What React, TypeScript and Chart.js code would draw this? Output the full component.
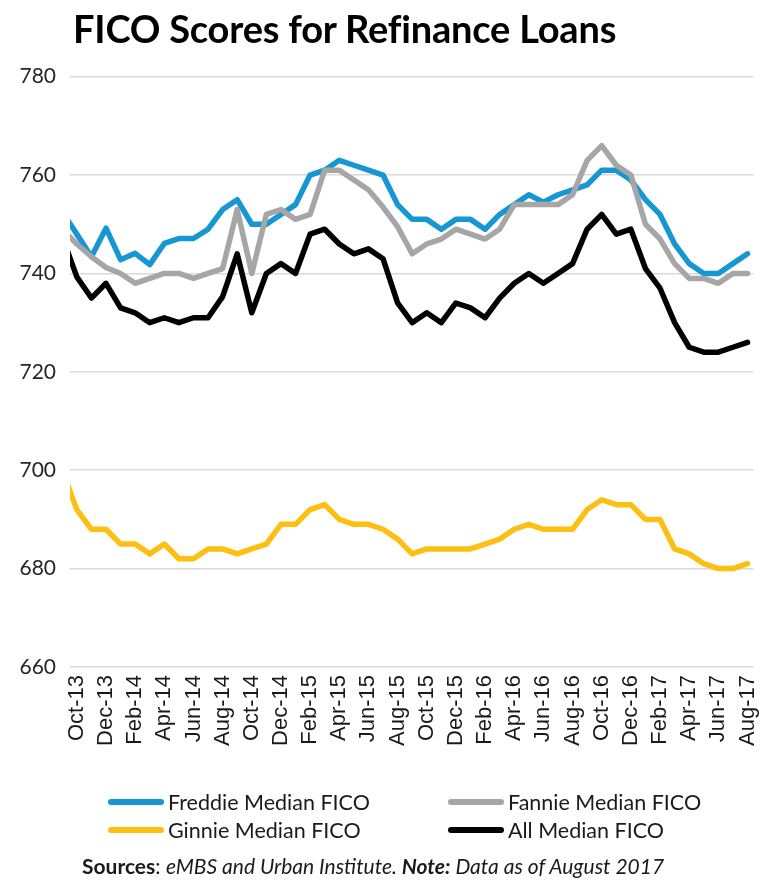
import React, { useEffect, useRef } from 'react';
import { Chart, registerables } from 'chart.js';

Chart.register(...registerables);

// Monthly observations, Sep-13 (partly outside the plot, clipped) through Aug-17
const months = [
  'Sep-13', 'Oct-13', 'Nov-13', 'Dec-13',
  'Jan-14', 'Feb-14', 'Mar-14', 'Apr-14', 'May-14', 'Jun-14', 'Jul-14', 'Aug-14', 'Sep-14', 'Oct-14', 'Nov-14', 'Dec-14',
  'Jan-15', 'Feb-15', 'Mar-15', 'Apr-15', 'May-15', 'Jun-15', 'Jul-15', 'Aug-15', 'Sep-15', 'Oct-15', 'Nov-15', 'Dec-15',
  'Jan-16', 'Feb-16', 'Mar-16', 'Apr-16', 'May-16', 'Jun-16', 'Jul-16', 'Aug-16', 'Sep-16', 'Oct-16', 'Nov-16', 'Dec-16',
  'Jan-17', 'Feb-17', 'Mar-17', 'Apr-17', 'May-17', 'Jun-17', 'Jul-17', 'Aug-17',
];

const tickLabels = [
  'Oct-13', 'Dec-13', 'Feb-14', 'Apr-14', 'Jun-14', 'Aug-14', 'Oct-14', 'Dec-14',
  'Feb-15', 'Apr-15', 'Jun-15', 'Aug-15', 'Oct-15', 'Dec-15', 'Feb-16', 'Apr-16',
  'Jun-16', 'Aug-16', 'Oct-16', 'Dec-16', 'Feb-17', 'Apr-17', 'Jun-17', 'Aug-17',
];

const freddie = [
  752.5, 748, 743.4, 749.2,
  742.8, 744.1, 741.8, 746.1, 747.1, 747.1, 749, 753, 755, 750, 750, 752,
  754, 760, 761, 763, 762, 761, 760, 754, 751, 751, 749, 751,
  751, 749, 752, 754, 756, 754.5, 756, 757, 758, 761, 761, 759,
  755, 752, 746, 742, 740, 740, 742, 744,
];

const fannie = [
  749, 746, 743.4, 741.2,
  740, 738, 739, 740, 740, 739, 740, 741, 753, 740, 752, 753,
  751, 752, 761, 761, 759, 757, 753.5, 749.5, 744, 746, 747, 749,
  748, 747, 749, 754, 754, 754, 754, 756, 763, 766, 762, 760,
  750, 747, 742, 739, 739, 738, 740, 740,
];

const ginnie = [
  700, 692, 688, 688,
  685, 685, 683, 685, 682, 682, 684, 684, 683, 684, 685, 689,
  689, 692, 693, 690, 689, 689, 688, 686, 683, 684, 684, 684,
  684, 685, 686, 688, 689, 688, 688, 688, 692, 694, 693, 693,
  690, 690, 684, 683, 681, 680, 680, 681,
];

const allMedian = [
  747.5, 739.3, 735, 738,
  733, 732, 730, 731, 730, 731, 731, 735.3, 744, 732, 740, 742,
  740, 748, 749, 746, 744, 745, 743, 734, 730, 732, 730, 734,
  733, 731, 735, 738, 740, 738, 740, 742, 749, 752, 748, 749,
  741, 737, 730, 725, 724, 724, 725, 726,
];

const seriesNames = ['Freddie Median FICO', 'Fannie Median FICO', 'Ginnie Median FICO', 'All Median FICO'];
const seriesValues = [freddie, fannie, ginnie, allMedian];
const seriesColors = ['#1696d2', '#a6a6a6', '#fdbf11', '#000000'];

const yMin = 660;
const yMax = 780;
const yStep = 20;

const titleText = 'FICO Scores for Refinance Loans';

export default function App() {
  const canvasRef = useRef<HTMLCanvasElement | null>(null);

  useEffect(() => {
    const canvas = canvasRef.current;
    if (!canvas) return;
    const datasets = seriesNames.map((name, s) => ({
      label: name,
      data: months.map((m, i) => ({ x: i - 1, y: seriesValues[s][i] })),
      borderColor: seriesColors[s],
      backgroundColor: seriesColors[s],
      borderWidth: 5.5,
      pointRadius: 0,
      tension: 0,
      fill: false,
      borderJoinStyle: 'round' as const,
      borderCapStyle: 'round' as const,
      order: seriesNames.length - s,
      clip: 0,
    }));

    const chart = new Chart(canvas, {
      type: 'line',
      data: { datasets },
      options: {
        animation: false,
        responsive: false,
        devicePixelRatio: 1,
        layout: { padding: { top: 76.7, left: 0, right: 10.3, bottom: 113 } },
        plugins: {
          legend: { display: false },
          title: { display: false },
          tooltip: { enabled: false },
        },
        scales: {
          x: {
            type: 'linear',
            min: -0.468,
            max: 46.41,
            grid: { display: false, drawTicks: false },
            border: { display: false },
            afterFit: (scale: any) => {
              scale.height = 100;
            },
            afterBuildTicks: (scale: any) => {
              scale.ticks = tickLabels.map((_, k) => ({ value: 2 * k }));
            },
            ticks: {
              autoSkip: false,
              minRotation: 90,
              maxRotation: 90,
              padding: 8,
              color: '#1a1a1a',
              font: { family: 'Liberation Sans', size: 22 },
              callback: (_v: any, index: number) => tickLabels[index],
            },
          },
          y: {
            type: 'linear',
            min: yMin,
            max: yMax,
            grid: { color: '#d9d9d9', lineWidth: 1.5, drawTicks: false },
            border: { display: false },
            afterFit: (scale: any) => {
              scale.width = 70;
            },
            ticks: {
              stepSize: yStep,
              padding: 14,
              color: '#262626',
              font: { family: 'Lato', size: 21 },
            },
          },
        },
      },
    });
    return () => chart.destroy();
  }, []);

  const legendPos = [
    { left: 108, top: 788 },
    { left: 448, top: 788 },
    { left: 108, top: 816 },
    { left: 448, top: 816 },
  ];

  return (
    <div style={{ position: 'absolute', left: 0, top: 0, width: 782, height: 880, background: '#fff', fontFamily: 'Lato' }}>
      <canvas ref={canvasRef} width={782} height={880} style={{ position: 'absolute', left: 0, top: 0, width: 782, height: 880 }} />
      <div style={{ position: 'absolute', left: 73, top: 6, fontSize: 38, fontWeight: 700, lineHeight: '44px', color: '#000', whiteSpace: 'nowrap', letterSpacing: -0.2 }}>
        {titleText}
      </div>
      {seriesNames.map((name, s) => (
        <div key={name} style={{ position: 'absolute', left: legendPos[s].left, top: legendPos[s].top, height: 28, display: 'flex', alignItems: 'center', whiteSpace: 'nowrap' }}>
          <div style={{ width: 56, height: 6, borderRadius: 3, background: seriesColors[s] }} />
          <span style={{ marginLeft: 4, fontSize: 21.5, color: '#1a1a1a' }}>{name}</span>
        </div>
      ))}
      <div style={{ position: 'absolute', left: 82, top: 853, fontSize: 21, lineHeight: '26px', color: '#1a1a1a', whiteSpace: 'nowrap' }}>
        <b>Sources</b>: <i>eMBS and Urban Institute. </i><b><i>Note:</i></b><i> Data as of August 2017</i>
      </div>
    </div>
  );
}
